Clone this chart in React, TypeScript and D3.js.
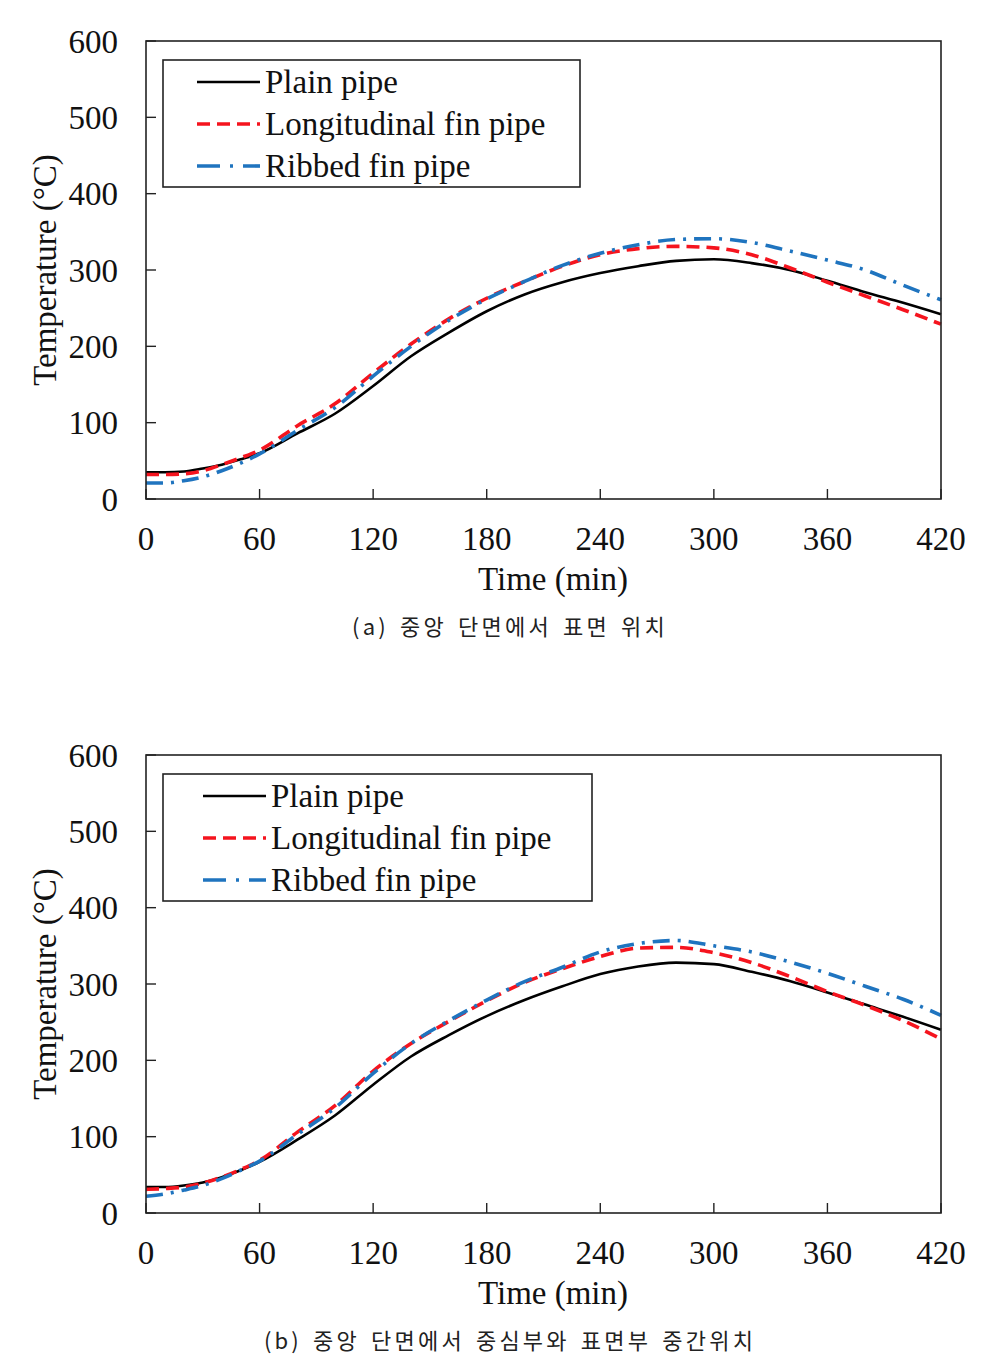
import React from "react";
import * as d3 from "d3";

const times = [0, 10, 20, 30, 40, 50, 60, 80, 100, 120, 140, 160, 180, 200, 220, 240, 260, 280, 300, 320, 340, 360, 380, 400, 420];

// Panel (a): surface position at central section
const plainA = [35, 35, 36, 40, 45, 52, 60, 86, 112, 148, 187, 218, 246, 268, 284, 296, 305, 312, 314, 309, 300, 286, 271, 257, 242];
const longA = [32, 32, 33, 37, 45, 54, 64, 96, 125, 165, 203, 236, 263, 285, 305, 320, 328, 331, 329, 320, 303, 284, 266, 248, 229];
const ribA = [21, 21, 24, 29, 37, 47, 59, 90, 120, 161, 200, 234, 262, 285, 306, 322, 333, 340, 341, 336, 325, 313, 300, 280, 261];

// Panel (b): midway between core and surface at central section
const plainB = [34, 34, 36, 40, 47, 56, 67, 96, 128, 168, 205, 233, 258, 279, 297, 313, 323, 328, 326, 316, 304, 289, 273, 257, 240];
const longB = [31, 32, 34, 39, 47, 57, 69, 106, 141, 186, 222, 251, 278, 302, 320, 336, 347, 348, 341, 328, 310, 290, 272, 252, 228];
const ribB = [22, 25, 30, 36, 45, 56, 68, 103, 138, 183, 222, 252, 279, 303, 322, 342, 353, 357, 350, 342, 329, 314, 297, 280, 259];

const xTicks = [0, 60, 120, 180, 240, 300, 360, 420];
const yTicks = [0, 100, 200, 300, 400, 500, 600];
const seriesNames = ["Plain pipe", "Longitudinal fin pipe", "Ribbed fin pipe"];
const captions = ["(a) 중앙 단면에서 표면 위치", "(b) 중앙 단면에서 중심부와 표면부 중간위치"];

const styles = [
  { color: "#000000", width: 2.6, dash: "" },
  { color: "#f5141e", width: 3.6, dash: "13 7" },
  { color: "#1f74bf", width: 3.6, dash: "17 8 3 8" },
];

const SERIF = "'Liberation Serif', 'Times New Roman', serif";
const FS = 33;

type PanelProps = {
  top: number;
  series: number[][];
  legendW: number;
  legendLineX: number;
  caption: string;
  captionY: number;
};

function Panel({ top, series, legendW, legendLineX, caption, captionY }: PanelProps) {
  const left = 146;
  const right = 941;
  const bottom = top + 458;
  const x = d3.scaleLinear().domain([0, 420]).range([left, right]);
  const y = d3.scaleLinear().domain([0, 600]).range([bottom, top]);
  const line = d3
    .line<[number, number]>()
    .x((d) => x(d[0]))
    .y((d) => y(d[1]))
    .curve(d3.curveMonotoneX);

  const legX = 163;
  const legY = top + 19;
  const rowGap = 42;

  return (
    <g>
      {series.map((vals, i) => (
        <path
          key={i}
          d={line(times.map((t, k) => [t, vals[k]] as [number, number])) || ""}
          fill="none"
          stroke={styles[i].color}
          strokeWidth={styles[i].width}
          strokeDasharray={styles[i].dash}
          strokeLinejoin="round"
        />
      ))}
      <rect x={left} y={top} width={right - left} height={bottom - top} fill="none" stroke="#222" strokeWidth={1.6} />
      {yTicks.map((v) => (
        <g key={"y" + v}>
          <line x1={left} x2={left + 10} y1={y(v)} y2={y(v)} stroke="#222" strokeWidth={1.4} />
          <text x={118} y={y(v)} dy="0.35em" textAnchor="end" fontFamily={SERIF} fontSize={FS} fill="#111">
            {v}
          </text>
        </g>
      ))}
      {xTicks.map((v) => (
        <g key={"x" + v}>
          <line x1={x(v)} x2={x(v)} y1={bottom} y2={bottom - 10} stroke="#222" strokeWidth={1.4} />
          <text x={x(v)} y={bottom + 39} dy="0.35em" textAnchor="middle" fontFamily={SERIF} fontSize={FS} fill="#111">
            {v}
          </text>
        </g>
      ))}
      <text x={553} y={bottom + 79} dy="0.35em" textAnchor="middle" fontFamily={SERIF} fontSize={FS} fill="#111">
        Time (min)
      </text>
      <text
        transform={`translate(44, ${top + 229}) rotate(-90)`}
        dy="0.35em"
        textAnchor="middle"
        fontFamily={SERIF}
        fontSize={FS}
        fill="#111"
      >
        Temperature (°C)
      </text>
      <rect x={legX} y={legY} width={legendW} height={127} fill="#fff" stroke="#222" strokeWidth={1.6} />
      {seriesNames.map((name, i) => {
        const cy = legY + 22 + i * rowGap;
        return (
          <g key={name}>
            <line
              x1={legendLineX}
              x2={legendLineX + 63}
              y1={cy}
              y2={cy}
              stroke={styles[i].color}
              strokeWidth={styles[i].width}
              strokeDasharray={i === 1 ? "13 7" : i === 2 ? "23 10 3 10" : ""}
            />
            <text x={legendLineX + 68} y={cy} dy="0.33em" fontFamily={SERIF} fontSize={FS} fill="#111">
              {name}
            </text>
          </g>
        );
      })}
      <text
        x={510}
        y={captionY}
        dy="0.35em"
        textAnchor="middle"
        fontFamily="'Noto Sans CJK KR', sans-serif"
        fontSize={22}
        letterSpacing={3.2}
        wordSpacing={3}
        fill="#222"
      >
        {caption}
      </text>
    </g>
  );
}

export default function App() {
  return (
    <svg
      width={995}
      height={1361}
      viewBox="0 0 995 1361"
      style={{ position: "absolute", left: 0, top: 0, background: "#fff" }}
    >
      <rect x={0} y={0} width={995} height={1361} fill="#fff" />
      <Panel top={41} series={[plainA, longA, ribA]} legendW={417} legendLineX={197} caption={captions[0]} captionY={627} />
      <Panel top={755} series={[plainB, longB, ribB]} legendW={429} legendLineX={203} caption={captions[1]} captionY={1341} />
    </svg>
  );
}
